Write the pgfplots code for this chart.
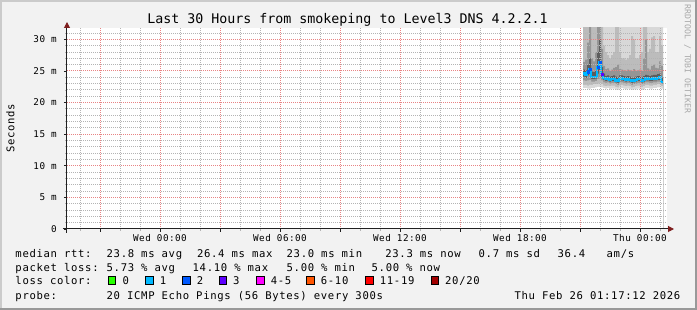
\documentclass[border=0pt]{standalone}
\usepackage{fontspec}
\usepackage{pgfplots}
\pgfplotsset{compat=1.18}
\usepackage{pgfplotstable}
\usetikzlibrary{arrows.meta}
\newfontfamily\rrdtitle{DejaVu Sans Mono}
\newfontfamily\rrdleg[LetterSpace=6.2]{DejaVu Sans Mono}
\newfontfamily\rrdtick[LetterSpace=5]{DejaVu Sans Mono}
\newcommand\legf{\rrdleg\fontsize{10.6}{12}\selectfont}
\newcommand\tickf{\rrdtick\fontsize{9.3}{11}\selectfont}
\definecolor{bg}{HTML}{F2F2F2}
\definecolor{shadeA}{HTML}{CBCBCB}
\definecolor{shadeB}{HTML}{999999}
\definecolor{gridc}{HTML}{B4B4B4}
\definecolor{mgridc}{HTML}{E88484}
\definecolor{arrowred}{HTML}{7F1F1F}
\definecolor{axisc}{HTML}{202020}
\definecolor{s1}{HTML}{D8D8D8}
\definecolor{s2}{HTML}{BCBCBC}
\definecolor{s3}{HTML}{959595}
\definecolor{s4}{HTML}{5C5C5C}
\definecolor{lc0}{HTML}{26FF00}
\definecolor{lc1}{HTML}{00B8FF}
\definecolor{lc2}{HTML}{0059FF}
\definecolor{lc3}{HTML}{5E00FF}
\definecolor{lc4}{HTML}{FF00FF}
\definecolor{lc6}{HTML}{FF5500}
\definecolor{lc11}{HTML}{FF0000}
\definecolor{lc20}{HTML}{A10000}
\definecolor{credit}{HTML}{A8A8A8}

% smoke: sorted ping quantiles (ms) per 6-minute step, h = hours from Wed 00:00
\pgfplotstableread{
h     p1   p2   p3   p4   med  u4   u3   u2   u1
21.15 22.3 22.8 23.5 24.1 24.6 25.2 26.4 40   40
21.25 22.3 22.8 23.4 23.9 24.4 25.1 26.8 33   40
21.35 22.2 22.7 23.5 24.3 24.9 26.0 29.5 40   40
21.45 22.2 22.8 23.6 24.5 25.3 27.0 40   40   40
21.55 22.3 22.8 23.3 23.7 24.1 24.9 27.0 40   40
21.65 22.3 22.9 23.3 23.7 24.1 24.8 26.5 32   40
21.75 22.4 22.9 23.4 23.8 24.1 25.0 28.0 40   40
21.85 22.5 23.0 23.7 24.6 25.6 28.0 40   40   40
21.95 22.5 23.1 23.8 25.0 26.4 30.0 40   40   40
22.05 22.4 22.9 23.5 24.0 24.5 25.6 28.5 40   40
22.15 22.3 22.7 23.2 23.6 23.9 24.6 25.8 29   40
22.25 22.2 22.6 23.1 23.4 23.7 24.2 25.3 28   40
22.35 22.3 22.7 23.2 23.5 23.8 24.3 25.4 27.5 40
22.45 22.1 22.6 23.0 23.3 23.6 24.1 25.0 27   40
22.55 22.2 22.7 23.1 23.4 23.7 24.2 25.2 27.5 40
22.65 22.2 22.7 23.1 23.4 23.7 24.3 25.5 28   40
22.75 22.0 22.5 22.9 23.2 23.5 24.1 25.6 40   40
22.85 22.0 22.4 22.8 23.1 23.4 24.0 26.0 40   40
22.95 22.2 22.7 23.1 23.4 23.7 24.3 25.3 28   40
23.05 22.3 22.8 23.2 23.5 23.8 24.3 25.2 27   40
23.15 22.2 22.7 23.1 23.4 23.7 24.2 25.1 27   40
23.25 22.1 22.6 23.0 23.3 23.6 24.1 25.0 26.8 40
23.35 22.2 22.7 23.1 23.4 23.7 24.2 25.2 27   40
23.45 22.1 22.6 23.0 23.3 23.6 24.1 25.1 27.5 40
23.55 22.0 22.4 22.8 23.1 23.4 23.9 25.0 30.5 40
23.65 22.1 22.5 22.9 23.2 23.5 24.0 25.3 30   40
23.75 22.1 22.6 23.0 23.3 23.6 24.1 25.0 27   40
23.85 22.2 22.7 23.1 23.4 23.7 24.2 25.1 27   40
23.95 22.2 22.7 23.1 23.4 23.7 24.2 25.2 27.5 40
24.05 22.0 22.5 22.9 23.2 23.5 24.0 25.0 28   40
24.15 22.1 22.6 23.0 23.3 23.6 24.2 27.0 40   40
24.25 22.3 22.8 23.2 23.5 23.8 24.4 30.0 40   40
24.35 22.3 22.8 23.2 23.5 23.8 24.3 25.4 28   40
24.45 22.2 22.7 23.1 23.4 23.7 24.2 25.2 28.5 40
24.55 22.2 22.7 23.1 23.4 23.7 24.3 25.8 30.3 40
24.65 22.3 22.8 23.2 23.5 23.8 24.4 26.0 30.5 40
24.75 22.3 22.8 23.2 23.5 23.8 24.4 25.5 28   40
24.85 22.4 22.9 23.3 23.6 23.9 24.5 25.4 28   40
24.95 22.4 22.9 23.3 23.6 24.0 24.6 26.5 30.5 40
25.05 22.2 22.6 22.9 23.1 23.3 23.9 25.8 29   40
25.15 22.2 22.6 22.9 23.1 23.3 23.9 25.8 29   40
}\smoke

\begin{document}
\begin{tikzpicture}
\fill[bg] (0pt,0pt) rectangle (697pt,310pt);
\fill[shadeA] (0pt,308pt) rectangle (697pt,310pt);
\fill[shadeA] (0pt,0pt) rectangle (2pt,310pt);
\fill[shadeB] (0pt,0pt) rectangle (697pt,2pt);
\fill[shadeB] (695pt,0pt) rectangle (697pt,310pt);
\begin{axis}[
  at={(67pt,81pt)}, anchor=south west,
  scale only axis, width=600pt, height=201pt,
  xmin=-4.65, xmax=25.35, ymin=0, ymax=31.8,
  axis lines=left, axis on top,
  axis background/.style={fill=white},
  x axis line style={draw=axisc, line width=1pt, shorten <=-4pt, shorten >=-7pt, -{Triangle[length=6pt,width=6pt,color=arrowred]}},
  y axis line style={draw=axisc, line width=1pt, shorten <=-4pt, shorten >=-6pt, -{Triangle[length=6pt,width=6pt,color=arrowred]}},
  xtick={-3,0,3,6,9,12,15,18,21,24},
  xticklabels={,Wed 00:00,,Wed 06:00,,Wed 12:00,,Wed 18:00,,Thu 00:00},
  minor xtick={-4,-2,-1,1,2,4,5,7,8,10,11,13,14,16,17,19,20,22,23,25},
  ytick={0,5,10,15,20,25,30},
  yticklabels={0,5 m,10 m,15 m,20 m,25 m,30 m},
  minor ytick={1,2,3,4,6,7,8,9,11,12,13,14,16,17,18,19,21,22,23,24,26,27,28,29,31},
  xmajorgrids=true, xminorgrids=true, ymajorgrids=true, yminorgrids=true,
  major grid style={dash pattern=on 1pt off 1pt, color=mgridc, line width=1pt},
  minor grid style={dash pattern=on 1pt off 1pt, color=gridc, line width=1pt},
  tick align=outside,
  major tick length=3pt, minor tick length=2pt,
  tick style={color=axisc, line width=0.8pt},
  minor tick style={color=gridc},
  xticklabel style={font=\tickf, anchor=base, inner sep=0pt, yshift=-10pt},
  yticklabel style={font=\tickf, anchor=east, inner sep=0pt, xshift=-7pt},
]
\addplot[const plot, fill=s1, draw=none] table[x=h,y=u1]{\smoke} \closedcycle;
\addplot[const plot, fill=s2, draw=none] table[x=h,y=u2]{\smoke} \closedcycle;
\addplot[const plot, fill=s3, draw=none] table[x=h,y=u3]{\smoke} \closedcycle;
\addplot[const plot, fill=s4, draw=none] table[x=h,y=u4]{\smoke} \closedcycle;
\addplot[const plot, fill=s3, draw=none] table[x=h,y=p4]{\smoke} \closedcycle;
\addplot[const plot, fill=s2, draw=none] table[x=h,y=p3]{\smoke} \closedcycle;
\addplot[const plot, fill=s1, draw=none] table[x=h,y=p2]{\smoke} \closedcycle;
\addplot[const plot, fill=white, draw=none] table[x=h,y=p1]{\smoke} \closedcycle;
% major horizontal grid lines (red, dotted)
\pgfplotsinvokeforeach{5,10,15,20,25,30}{
  \draw[mgridc, dash pattern=on 1pt off 1pt, line width=1pt] (axis cs:-4.65,#1) -- (axis cs:25.35,#1);
}
\addplot[const plot, draw=lc1, line width=2.2pt] table[x=h,y=med]{\smoke};
\addplot[only marks, mark=square*, mark size=1.3pt, color=lc2] coordinates {(21.40,24.9) (21.50,25.3) (21.90,25.6) (22.00,26.4)};
\addplot[only marks, mark=square*, mark size=1.3pt, color=lc3] coordinates {(22.10,24.5)};
\end{axis}
% title and texts
\node[anchor=base, inner sep=0pt, font=\rrdtitle\fontsize{13.3}{15}\selectfont] at (347.5pt,286pt) {Last 30 Hours from smokeping to Level3 DNS 4.2.2.1};
\node[rotate=90, inner sep=0pt, font=\legf] at (10.5pt,182pt) {Seconds};
\node[rotate=-90, inner sep=0pt, text=credit, font=\rrdtitle\fontsize{8.2}{9}\selectfont] at (687.5pt,251pt) {RRDTOOL / TOBI OETIKER};
\begin{scope}[every node/.style={anchor=base west, inner sep=0pt, font=\legf}]
\node at (15.3pt,52.3pt) {median rtt:};
\node at (106.5pt,52.3pt) {23.8 ms avg};
\node at (196.9pt,52.3pt) {26.4 ms max};
\node at (286.5pt,52.3pt) {23.0 ms min};
\node at (385.2pt,52.3pt) {23.3 ms now};
\node at (478.5pt,52.3pt) {0.7 ms sd};
\node at (557.5pt,52.3pt) {36.4};
\node at (606.5pt,52.3pt) {am/s};
\node at (15.3pt,38pt) {packet loss:};
\node at (106.5pt,38pt) {5.73 \% avg};
\node at (192.5pt,38pt) {14.10 \% max};
\node at (286.5pt,38pt) {5.00 \% min};
\node at (371.5pt,38pt) {5.00 \% now};
\node at (15.3pt,25.5pt) {loss color:};
\node at (122.3pt,25.5pt) {0};
\node at (159.7pt,25.5pt) {1};
\node at (196.7pt,25.5pt) {2};
\node at (233pt,25.5pt) {3};
\node at (270.7pt,25.5pt) {4-5};
\node at (320.7pt,25.5pt) {6-10};
\node at (379.7pt,25.5pt) {11-19};
\node at (445pt,25.5pt) {20/20};
\node at (15.3pt,10.7pt) {probe:};
\node at (106.5pt,10.7pt) {20 ICMP Echo Pings (56 Bytes) every 300s};
\node[anchor=base east] at (680.5pt,10.7pt) {Thu Feb 26 01:17:12 2026};
\end{scope}
\begin{scope}[line width=0.8pt]
\filldraw[fill=lc0, draw=black] (108.3pt,25.9pt) rectangle ++(7.4pt,7.4pt);
\filldraw[fill=lc1, draw=black] (145.7pt,25.9pt) rectangle ++(7.4pt,7.4pt);
\filldraw[fill=lc2, draw=black] (182.7pt,25.9pt) rectangle ++(7.4pt,7.4pt);
\filldraw[fill=lc3, draw=black] (219pt,25.9pt) rectangle ++(7.4pt,7.4pt);
\filldraw[fill=lc4, draw=black] (256.7pt,25.9pt) rectangle ++(7.4pt,7.4pt);
\filldraw[fill=lc6, draw=black] (306.7pt,25.9pt) rectangle ++(7.4pt,7.4pt);
\filldraw[fill=lc11, draw=black] (365.7pt,25.9pt) rectangle ++(7.4pt,7.4pt);
\filldraw[fill=lc20, draw=black] (431pt,25.9pt) rectangle ++(7.4pt,7.4pt);
\end{scope}
\end{tikzpicture}
\end{document}
